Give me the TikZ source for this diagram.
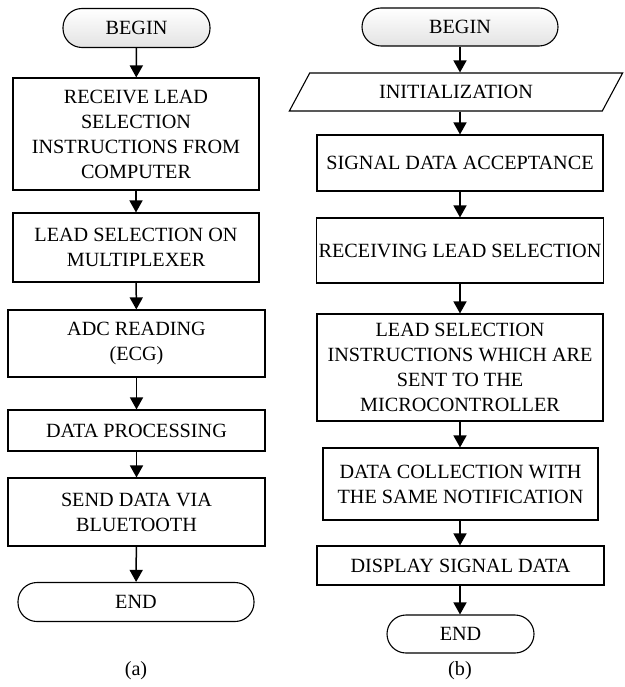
\documentclass[tikz,border=0pt]{standalone}
\usepackage{tikz}
\usetikzlibrary{positioning,arrows.meta,shapes.geometric}
\usepackage{fontspec}
\setmainfont{Liberation Serif}

\begin{document}
\begin{tikzpicture}[x=1pt,y=-1pt,
		every node/.style={font=\fontsize{20.2}{25}\selectfont, align=center, inner sep=2pt},
		box/.style={rectangle, draw, line width=1.1pt},
		term/.style={rectangle, draw, line width=1.1pt, rounded corners=19pt, minimum height=39pt},
		io/.style={trapezium, draw, line width=1.1pt, trapezium left angle=58, trapezium right angle=122, trapezium stretches=true},
		>={Triangle[length=12pt,width=13pt]}
		]
		\useasboundingbox (0,0) rectangle (624,687);
		% (a)
		\node[term, top color=white, bottom color=gray!22, minimum width=147pt] (begA) at (136.5,28) {BEGIN};
		\node[box, minimum width=246pt, minimum height=112pt] (recv) at (136,134) {RECEIVE LEAD\\SELECTION\\INSTRUCTIONS FROM\\COMPUTER};
		\node[box, minimum width=246pt, minimum height=69pt] (mux) at (136,247.5) {LEAD SELECTION ON\\MULTIPLEXER};
		\node[box, minimum width=257pt, minimum height=67pt] (adc) at (136.5,343.5) {ADC READING\\(ECG)};
		\node[box, minimum width=257pt, minimum height=41pt] (proc) at (136.5,430.5) {DATA PROCESSING};
		\node[box, minimum width=257pt, minimum height=68pt] (send) at (136.5,512) {SEND DATA VIA\\BLUETOOTH};
		\node[term, minimum width=236pt] (endA) at (136,602) {END};
		\node (capA) at (136,671) {(a)};
		\draw[->, line width=1.5pt] (begA) to (recv);
		\draw[->, line width=1.5pt] (recv) to (mux);
		\draw[->, line width=1.5pt] (mux) to (adc);
		\draw[->, line width=1.5pt] (adc) to (proc);
		\draw[->, line width=1.5pt] (proc) to (send);
		\draw[->, line width=1.5pt] (send) to (endA);
		% (b)
		\node[term, top color=white, bottom color=gray!22, minimum width=196pt, minimum height=38pt] (begB) at (460,27) {BEGIN};
		\node[io, minimum width=334pt, minimum height=38pt] (init) at (456,92) {INITIALIZATION};
		\node[box, minimum width=286pt, minimum height=56pt] (accept) at (460,163) {SIGNAL DATA ACCEPTANCE};
		\node[box, minimum width=286pt, minimum height=65pt] (rcv) at (460,250.5) {RECEIVING LEAD SELECTION};
		\node[box, minimum width=286pt, minimum height=107pt] (instr) at (460,367.5) {LEAD SELECTION\\INSTRUCTIONS WHICH ARE\\SENT TO THE\\MICROCONTROLLER};
		\node[box, minimum width=275pt, minimum height=72pt] (collect) at (460.5,484) {DATA COLLECTION WITH\\THE SAME NOTIFICATION};
		\node[box, minimum width=287pt, minimum height=39pt] (disp) at (460.5,565.5) {DISPLAY SIGNAL DATA};
		\node[term, minimum width=147pt, minimum height=38pt] (endB) at (460.5,634) {END};
		\node (capB) at (460,671) {(b)};
		\draw[->, line width=1.5pt] (begB) to (begB |- init.north);
		\draw[->, line width=1.5pt] (begB |- init.south) to (accept);
		\draw[->, line width=1.5pt] (accept) to (rcv);
		\draw[->, line width=1.5pt] (rcv) to (instr);
		\draw[->, line width=1.5pt] (instr) to (instr |- collect.north);
		\draw[->, line width=1.5pt] (instr |- collect.south) to (instr |- disp.north);
		\draw[->, line width=1.5pt] (instr |- disp.south) to (instr |- endB.north);
	\end{tikzpicture}
\end{document}
